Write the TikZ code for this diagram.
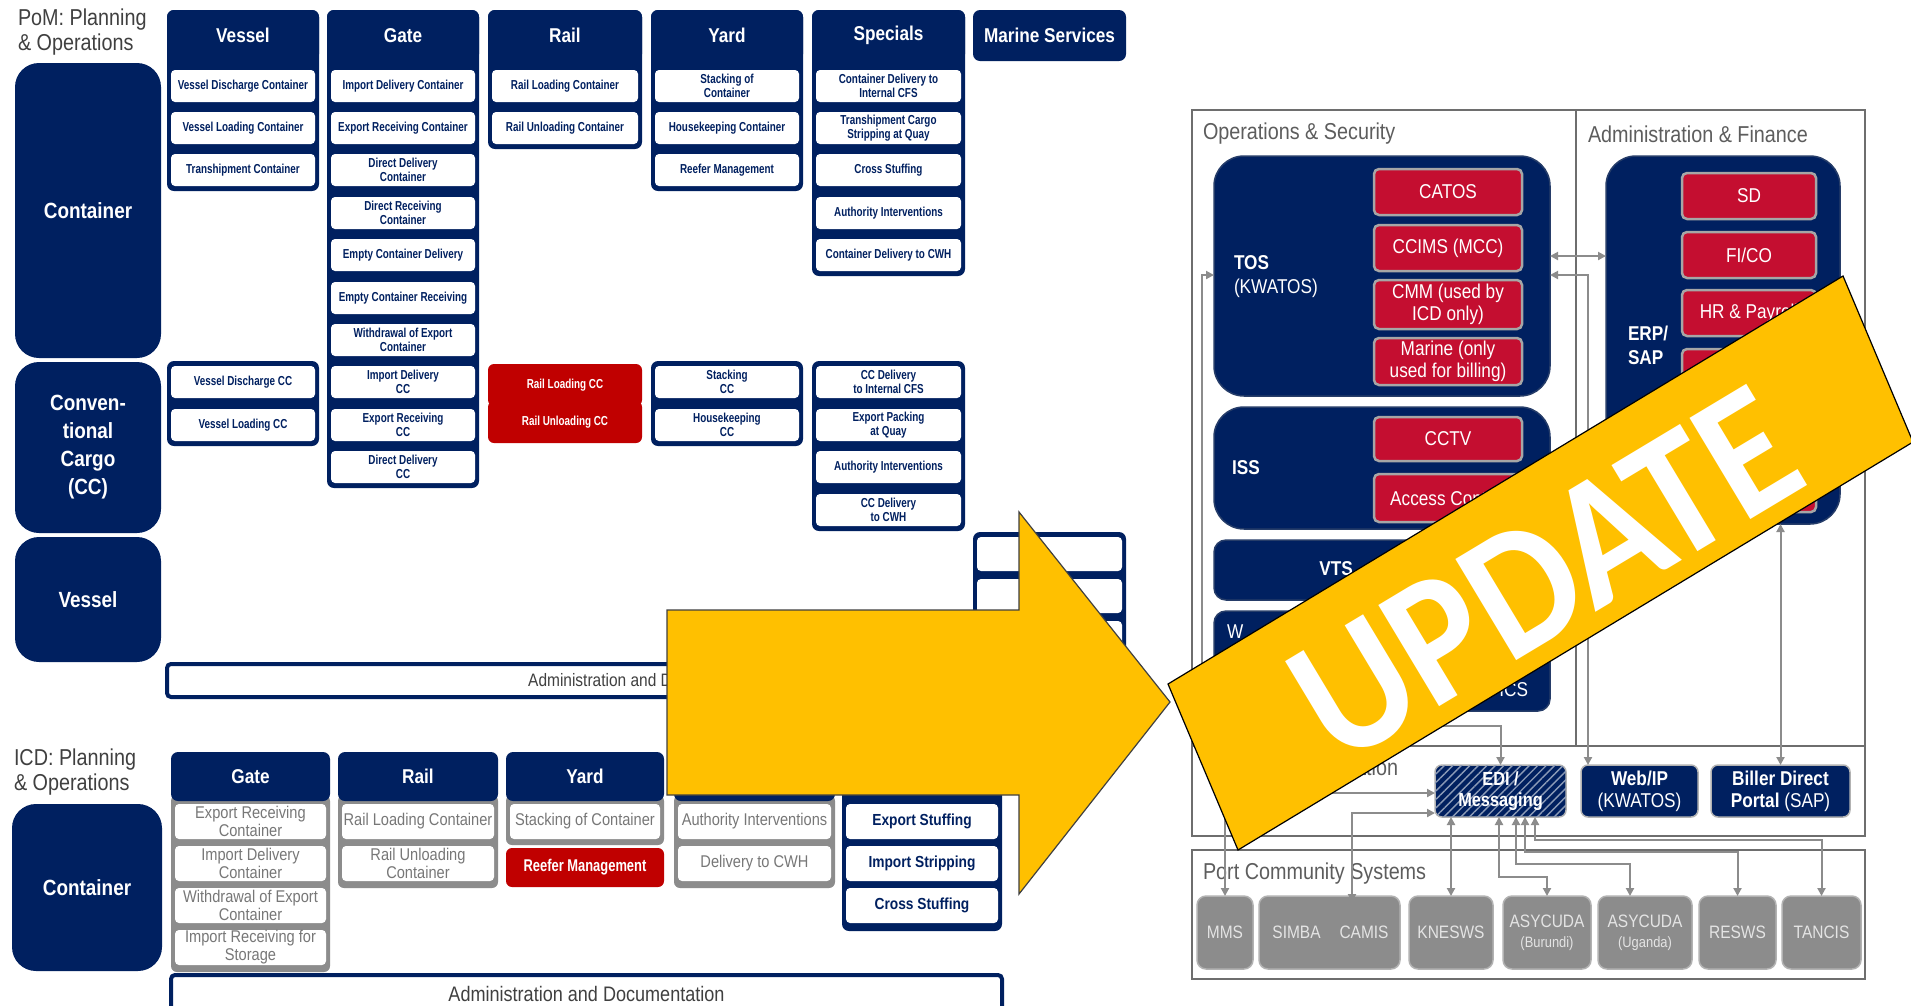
\documentclass[tikz,border=0pt]{standalone}
\usepackage{fontspec}
\setmainfont{Liberation Sans}[FakeStretch=0.86]
\newfontfamily\itemfont{Liberation Sans}[FakeStretch=0.76]
\newfontfamily\banfont{Carlito}[FakeStretch=0.92]
\usetikzlibrary{arrows.meta,patterns.meta}
\definecolor{navy}{RGB}{0,32,96}
\definecolor{pomred}{RGB}{192,0,0}
\definecolor{crim}{RGB}{196,14,48}
\definecolor{gry}{RGB}{140,140,140}
\definecolor{frm}{RGB}{110,110,110}
\definecolor{dgry}{RGB}{64,64,64}
\definecolor{gold}{RGB}{255,192,0}
\definecolor{pcsg}{RGB}{140,140,140}
\definecolor{pcst}{RGB}{228,228,228}
\newcommand\BX[7]{\node[#1,minimum width={#5-#3},minimum height={#6-#4}] (#2) at ({(#3+#5)/2},{(#4+#6)/2}) {#7};}
\tikzset{
  every node/.style={inner sep=0pt,outer sep=0pt},
  colbg/.style={fill=navy,rounded corners=7pt},
  hdr/.style={fill=navy,rounded corners=7pt,text=white,font=\fontsize{20}{22}\selectfont\bfseries},
  itm/.style={fill=white,rounded corners=4pt,text=navy,align=center,font=\itemfont\fontsize{13}{14}\selectfont\bfseries},
  reditm/.style={fill=pomred,rounded corners=6pt,text=white,align=center,font=\itemfont\fontsize{13}{14}\selectfont\bfseries},
  rowhd/.style={fill=navy,rounded corners=24pt,text=white,align=center,font=\fontsize{22}{28}\selectfont\bfseries},
  admbar/.style={fill=white,draw=navy,line width=4pt,rounded corners=4pt,text=dgry,font=\fontsize{18}{20}\selectfont},
  ttl/.style={text=dgry,align=left,anchor=north west,font=\fontsize{23}{25}\selectfont},
  gbg/.style={fill=gry,rounded corners=6pt},
  gitm/.style={fill=white,rounded corners=4pt,text=gry!85!black,align=center,font=\fontsize{17}{18}\selectfont},
  nitm/.style={fill=white,rounded corners=4pt,text=navy,align=center,font=\fontsize{16}{18}\selectfont\bfseries},
  frameline/.style={draw=frm,line width=1.5pt},
  ptitle/.style={text=dgry!85,anchor=west,font=\fontsize{23}{25}\selectfont},
  sysbox/.style={fill=navy,draw=navy!70!gray,line width=1.5pt,rounded corners=30pt},
  syslbl/.style={text=white,align=left,font=\fontsize{20}{24}\selectfont},
  redsys/.style={fill=crim,draw=gray!70,line width=2.5pt,rounded corners=5pt,text=white,align=center,font=\fontsize{20}{22}\selectfont},
  intbox/.style={fill=navy,draw=gray!60,line width=1.5pt,rounded corners=7pt,text=white,align=center,font=\fontsize{20}{22}\selectfont},
  pcs/.style={fill=pcsg,draw=gray!60,line width=1.5pt,rounded corners=9pt,text=pcst,align=center,font=\fontsize{18}{20}\selectfont},
  conn/.style={draw=gry,line width=2pt,arrows={Triangle[length=8pt,width=8pt]-Triangle[length=8pt,width=8pt]}},
}
\begin{document}
\begin{tikzpicture}[x=1pt,y=-1pt]
\useasboundingbox (0,0) rectangle (1911,1005);
\fill[white] (0,0) rectangle (1911,1005);

% ---------------- PoM ----------------
\node[ttl] (pomt) at (18,9) {PoM: Planning\\\& Operations};
\BX{rowhd}{rcont}{15}{63}{161}{358}{Container}
\BX{rowhd}{rcc}{15}{362}{161}{533}{Conven-\\tional\\Cargo\\(CC)}
\BX{rowhd}{rves}{15}{537}{161}{662}{Vessel}

% column backgrounds
\BX{colbg}{vbgA}{167}{10}{319}{191}{}
\BX{colbg}{vbgB}{167}{361}{319}{446}{}
\BX{colbg}{gbgA}{327}{10}{479}{488}{}
\BX{colbg}{rbgA}{488}{10}{642}{149}{}
\BX{colbg}{ybgA}{651}{10}{803}{191}{}
\BX{colbg}{ybgB}{651}{361}{803}{446}{}
\BX{colbg}{sbgA}{812}{10}{965}{276}{}
\BX{colbg}{sbgB}{812}{361}{965}{531}{}
\BX{colbg}{mbgA}{973}{532}{1126}{662}{}

% headers
\BX{hdr}{hV}{167}{10}{319}{61}{Vessel}
\BX{hdr}{hG}{327}{10}{479}{61}{Gate}
\BX{hdr}{hR}{488}{10}{642}{61}{Rail}
\BX{hdr}{hY}{651}{10}{803}{61}{Yard}
\BX{hdr}{hS}{812}{10}{965}{61}{Specials}
\BX{hdr}{hM}{973}{10}{1126}{61}{Marine Services}

% Vessel items
\BX{itm}{v0}{171}{70}{315}{102}{Vessel Discharge Container}
\BX{itm}{v1}{171}{112}{315}{144}{Vessel Loading Container}
\BX{itm}{v2}{171}{154}{315}{186}{Transhipment Container}
\BX{itm}{v7}{171}{366}{315}{398}{Vessel Discharge CC}
\BX{itm}{v8}{171}{409}{315}{441}{Vessel Loading CC}
% Gate items
\BX{itm}{g0}{331}{70}{475}{102}{Import Delivery Container}
\BX{itm}{g1}{331}{112}{475}{144}{Export Receiving Container}
\BX{itm}{g2}{331}{154}{475}{186}{Direct Delivery\\Container}
\BX{itm}{g3}{331}{197}{475}{229}{Direct Receiving\\Container}
\BX{itm}{g4}{331}{239}{475}{271}{Empty Container Delivery}
\BX{itm}{g5}{331}{282}{475}{314}{Empty Container Receiving}
\BX{itm}{g6}{331}{324}{475}{356}{Withdrawal of Export\\Container}
\BX{itm}{g7}{331}{366}{475}{398}{Import Delivery\\CC}
\BX{itm}{g8}{331}{409}{475}{441}{Export Receiving\\CC}
\BX{itm}{g9}{331}{451}{475}{483}{Direct Delivery\\CC}
% Rail items
\BX{itm}{r0}{492}{70}{638}{102}{Rail Loading Container}
\BX{itm}{r1}{492}{112}{638}{144}{Rail Unloading Container}
\BX{reditm}{r7}{488}{364}{642}{406}{Rail Loading CC}
\BX{reditm}{r8}{488}{401}{642}{443}{Rail Unloading CC}
% Yard items
\BX{itm}{y0}{655}{70}{799}{102}{Stacking of\\Container}
\BX{itm}{y1}{655}{112}{799}{144}{Housekeeping Container}
\BX{itm}{y2}{655}{154}{799}{186}{Reefer Management}
\BX{itm}{y7}{655}{366}{799}{398}{Stacking\\CC}
\BX{itm}{y8}{655}{409}{799}{441}{Housekeeping\\CC}
% Specials items
\BX{itm}{s0}{816}{70}{961}{102}{Container Delivery to\\Internal CFS}
\BX{itm}{s1}{816}{112}{961}{144}{Transhipment Cargo\\Stripping at Quay}
\BX{itm}{s2}{816}{154}{961}{186}{Cross Stuffing}
\BX{itm}{s3}{816}{197}{961}{229}{Authority Interventions}
\BX{itm}{s4}{816}{239}{961}{271}{Container Delivery to CWH}
\BX{itm}{s7}{816}{366}{961}{398}{CC Delivery\\to Internal CFS}
\BX{itm}{s8}{816}{409}{961}{441}{Export Packing\\at Quay}
\BX{itm}{s9}{816}{451}{961}{483}{Authority Interventions}
\BX{itm}{s10}{816}{494}{961}{526}{CC Delivery\\to CWH}
% Marine items
\BX{itm}{m0}{977}{537}{1122}{571}{}
\BX{itm}{m1}{977}{579}{1122}{613}{}
\BX{itm}{m2}{977}{621}{1122}{655}{}

\BX{admbar}{padm}{167}{664}{1126}{697}{Administration and Documentation}

% ---------------- ICD ----------------
\node[ttl] (icdt) at (14,749) {ICD: Planning\\\& Operations};
\BX{rowhd}{icont}{12}{804}{162}{971}{Container}

\BX{gbg}{igbg}{171}{795}{330}{972}{}
\BX{gbg}{irbg}{338}{795}{498}{888}{}
\BX{gbg}{iybg}{506}{795}{664}{845}{}
\BX{gbg}{i4bg}{674}{795}{835}{888}{}
\BX{colbg}{i5bg}{842}{752}{1002}{931}{}

\BX{hdr}{ihG}{171}{752}{330}{801}{Gate}
\BX{hdr}{ihR}{338}{752}{498}{801}{Rail}
\BX{hdr}{ihY}{506}{752}{664}{801}{Yard}
\BX{hdr}{ih4}{674}{752}{835}{801}{}
\BX{hdr}{ih5}{842}{752}{1002}{801}{}

\BX{gitm}{ig0}{175}{804}{326}{839}{Export Receiving\\Container}
\BX{gitm}{ig1}{175}{846}{326}{881}{Import Delivery\\Container}
\BX{gitm}{ig2}{175}{888}{326}{923}{Withdrawal of Export\\Container}
\BX{gitm}{ig3}{175}{930}{326}{965}{Import Receiving for\\Storage}
\BX{gitm}{ir0}{342}{804}{494}{839}{Rail Loading Container}
\BX{gitm}{ir1}{342}{846}{494}{881}{Rail Unloading\\Container}
\BX{gitm}{iy0}{510}{804}{660}{839}{Stacking of Container}
\BX{reditm,font=\itemfont\fontsize{17}{18}\selectfont\bfseries}{iy1}{506}{848}{664}{887}{Reefer Management}
\BX{gitm}{i40}{678}{804}{831}{839}{Authority Interventions}
\BX{gitm}{i41}{678}{846}{831}{881}{Delivery to CWH}
\BX{nitm}{i50}{846}{804}{998}{839}{Export Stuffing}
\BX{nitm}{i51}{846}{846}{998}{881}{Import Stripping}
\BX{nitm}{i52}{846}{888}{998}{923}{Cross Stuffing}

\BX{admbar,font=\fontsize{21}{23}\selectfont}{iadm}{171}{975}{1002}{1012}{Administration and Documentation}

% ---------------- Right panel ----------------
\draw[frameline] (1192,110) rectangle (1865,836);
\draw[frameline] (1576,110) -- (1576,746);
\draw[frameline] (1192,746) -- (1865,746);
\draw[frameline] (1192,850) rectangle (1865,979);

\node[ptitle] (opst) at (1203,134) {Operations \& Security};
\node[ptitle] (admt) at (1588,134) {Administration \& Finance};

\BX{sysbox}{TOS}{1214}{156}{1550}{396}{}
\node[syslbl,anchor=west] (tosl) at (1234,277) {{\bfseries TOS}\\(KWATOS)};
\BX{redsys}{catos}{1374}{169}{1522}{215}{CATOS}
\BX{redsys}{ccims}{1374}{225}{1522}{271}{CCIMS (MCC)}
\BX{redsys}{cmm}{1374}{280}{1522}{329}{CMM (used by\\ICD only)}
\BX{redsys}{marine}{1374}{338}{1522}{385}{Marine (only\\used for billing)}

\BX{sysbox}{ISS}{1214}{407}{1550}{529}{}
\node[syslbl,anchor=west,font=\fontsize{20}{24}\selectfont\bfseries] (issl) at (1232,468) {ISS};
\BX{redsys}{cctv}{1374}{417}{1522}{461}{CCTV}
\BX{redsys}{acc}{1374}{474}{1522}{522}{Access Control}

\BX{sysbox,rounded corners=12pt}{VTS}{1214}{540}{1550}{600}{}
\node[syslbl,font=\fontsize{20}{24}\selectfont\bfseries] (vtsl) at (1336,569) {VTS};

\BX{sysbox,rounded corners=12pt}{WBX}{1214}{611}{1550}{711}{}
\node[syslbl,anchor=west] (wl) at (1227,632) {W};
\node[syslbl,anchor=east] (wr) at (1528,690) {ICS};

\BX{sysbox}{ERP}{1606}{156}{1840}{524}{}
\node[syslbl,anchor=west,font=\fontsize{20}{24}\selectfont\bfseries] (erpl) at (1628,345) {ERP/\\SAP};
\BX{redsys}{sd}{1682}{173}{1816}{219}{SD}
\BX{redsys}{fico}{1682}{232}{1816}{278}{FI/CO}
\BX{redsys}{hr}{1682}{290}{1816}{336}{HR \& Payroll}
\BX{redsys}{e4}{1682}{349}{1816}{395}{}
\BX{redsys}{e5}{1682}{407}{1816}{453}{}
\BX{redsys}{e6}{1682}{466}{1816}{512}{}

\node[ptitle,anchor=east] (intt) at (1398,770) {Integration};
\BX{intbox,postaction={pattern={Lines[angle=45,distance=6pt,line width=1.4pt]},pattern color=white!55!navy}}{EDI}{1435}{765}{1566}{817}{}
\node[text=white,align=center,font=\fontsize{19}{21}\selectfont\bfseries] (edil) at (EDI.center) {EDI /\\Messaging};
\BX{intbox}{Web}{1581}{765}{1698}{817}{{\bfseries Web/IP}\\(KWATOS)}
\BX{intbox}{Biller}{1711}{765}{1850}{817}{{\bfseries Biller Direct}\\{\bfseries Portal} (SAP)}

\node[ptitle] (pcst) at (1203,874) {Port Community Systems};
\BX{pcs}{MMS}{1197}{896}{1253}{969}{MMS}
\BX{pcs}{grp}{1259}{896}{1400}{969}{}
\BX{pcs,draw=black!45,line width=2pt}{SIMBA}{1265}{902}{1328}{963}{SIMBA}
\BX{pcs,draw=black!45,line width=2pt}{CAMIS}{1333}{902}{1395}{963}{CAMIS}
\BX{pcs}{KNESWS}{1409}{896}{1493}{969}{KNESWS}
\BX{pcs}{AsyB}{1503}{896}{1591}{969}{ASYCUDA\\{\fontsize{15}{18}\selectfont(Burundi)}}
\BX{pcs}{AsyU}{1598}{896}{1692}{969}{ASYCUDA\\{\fontsize{15}{18}\selectfont(Uganda)}}
\BX{pcs}{RESWS}{1699}{896}{1776}{969}{RESWS}
\BX{pcs}{TANCIS}{1782}{896}{1861}{969}{TANCIS}

% connectors
\draw[conn] (TOS.east |- 0,256) -- (ERP.west |- 0,256);
\draw[conn] (TOS.east |- 0,275) -| ([xshift=7pt]Web.north west);
\draw[conn] (Biller.north |- ERP.south) -- (Biller.north);
\draw[conn] (TOS.west |- 0,275) -- (1202,275) -- (1202,726) -| (EDI.north);
\draw[conn] (EDI.west |- 0,793) -| (MMS.north);
\draw[conn] (EDI.west |- 0,813) -| ([xshift=-12pt]CAMIS.north);
\draw[conn] (EDI.south -| KNESWS.north) -- (KNESWS.north);
\draw[conn] (EDI.south -| 1499,0) -- (1499,877) -| (AsyB.north);
\draw[conn] (EDI.south -| 1516,0) -- (1516,864) -| ([xshift=-15pt]AsyU.north);
\draw[conn] (EDI.south -| 1525,0) -- (1525,852) -| (RESWS.north);
\draw[conn] (EDI.south -| 1535,0) -- (1535,840) -| (TANCIS.north);

% ---------------- Arrow and banner ----------------
\fill[gold,draw=black!75,line width=1.2pt] (667,610) -- (1019,610) -- (1019,512) -- (1170,702) -- (1019,894) -- (1019,795) -- (667,795) -- cycle;
\fill[gold,draw=black,line width=1.2pt] (1168,684) -- (1843,276) -- (1913,442) -- (1238,850) -- cycle;
\node[rotate=31,text=white,font=\banfont\bfseries\fontsize{182}{182}\selectfont] (upd) at (1545,575) {UPDATE};
\end{tikzpicture}
\end{document}
